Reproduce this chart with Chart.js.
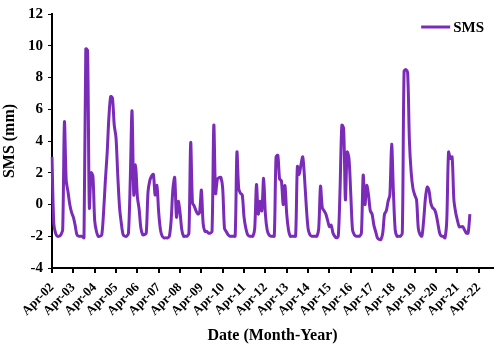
<!DOCTYPE html>
<html>
<head>
<meta charset="utf-8">
<script src="https://cdn.jsdelivr.net/npm/chart.js@4/dist/chart.umd.min.js"></script>
<style>
  html, body { margin: 0; padding: 0; background: #fff; }
  #wrap { width: 498px; height: 346px; }
</style>
</head>
<body>
<div id="wrap"><canvas id="grafico"></canvas></div>
<script>
// tick labels on the x axis (one per year, April)
const aprLabels = ['Apr-02','Apr-03','Apr-04','Apr-05','Apr-06','Apr-07','Apr-08','Apr-09','Apr-10','Apr-11',
  'Apr-12','Apr-13','Apr-14','Apr-15','Apr-16','Apr-17','Apr-18','Apr-19','Apr-20','Apr-21','Apr-22'];
const monthNames = ['Apr','May','Jun','Jul','Aug','Sep','Oct','Nov','Dec','Jan','Feb','Mar'];
const extraMonths = 8; // axis runs a bit past Apr-22

// monthly SMS (mm), Apr-02 .. Nov-21
const sms = [
  3.0, -1.2, -1.8, -2.0, -2.0, -1.9, -1.6, 5.2, 1.5, 0.8, 0.0, -0.5,
  -0.8, -1.3, -1.9, -2.0, -2.0, -2.0, -2.1, 9.8, 9.7, -0.2, 2.0, 1.8,
  -1.0, -1.7, -2.0, -2.0, -1.9, -0.5, 1.5, 3.2, 5.5, 6.8, 6.7, 5.0,
  4.2, 1.8, -0.2, -1.2, -1.9, -2.0, -2.0, -1.8, 1.5, 5.9, 0.6, 2.5,
  0.5, -0.3, -1.5, -1.9, -1.9, -1.8, 0.8, 1.5, 1.8, 1.9, 0.6, 1.2,
  -0.5, -1.6, -2.0, -2.1, -2.1, -2.1, -2.0, -1.0, 1.0, 1.7, -0.8, 0.2,
  -0.5, -1.6, -2.0, -2.0, -2.0, -1.8, 3.9, 0.1, -0.1, -0.4, -0.6, -0.5,
  0.9, -1.2, -1.7, -1.7, -1.8, -1.8, -1.7, 5.0, 0.7, 1.6, 1.7, 1.7,
  1.0, -1.5, -1.7, -1.9, -2.0, -2.0, -2.0, -2.0, 3.3, 1.0, 0.7, 0.6,
  -0.8, -1.5, -1.9, -2.0, -2.0, -2.0, -1.5, 1.25, -0.6, 0.2, -0.4, 1.65,
  -0.6, -1.6, -1.9, -2.0, -2.0, -2.0, 3.0, 3.1, 1.6, 1.5, 0.0, 1.2,
  -0.6, -1.6, -2.0, -2.0, -2.0, -2.0, 2.4, 1.9, 2.5, 3.0, 1.7, -0.1,
  -1.5, -1.9, -2.0, -2.0, -2.0, -2.0, -1.5, 1.15, -0.2, -0.4, -0.6, -1.0,
  -1.4, -1.3, -1.8, -2.0, -2.1, -2.0, 1.0, 5.0, 4.8, 0.3, 3.3, 2.9,
  0.7, -1.6, -1.9, -2.0, -2.0, -2.0, -1.8, 1.85, 0.0, 1.2, 0.6, -0.4,
  -0.6, -1.3, -1.7, -2.1, -2.2, -2.2, -1.8, -0.6, -0.4, 0.2, 0.6, 3.8,
  0.8, -1.6, -2.0, -2.0, -2.0, -1.8, 8.4, 8.5, 8.3, 4.0, 2.0, 1.0,
  0.6, 0.3, -1.5, -1.9, -2.0, -1.0, 0.4, 1.1, 0.9, 0.1, -0.2, -0.3,
  -0.6, -1.2, -1.8, -2.0, -2.0, -2.1, -1.0, 3.3, 2.9, 3.0, 0.3, -0.5,
  -1.0, -1.4, -1.4, -1.4, -1.6, -1.8, -1.8, -0.6
];

// etiquetas mensuales: Apr-02, May-02, ...
const etiquetas = [];
const totalMeses = (aprLabels.length - 1) * 12 + 1 + extraMonths;
for (let i = 0; i < totalMeses; i++) {
  const anio = 2 + Math.floor((i + 3) / 12);
  etiquetas.push(monthNames[i % 12] + '-' + String(anio).padStart(2, '0'));
}

const serif = 'Liberation Serif, Times New Roman, serif';
const purple = '#7a2cb8';

// leyenda dentro del area, arriba a la derecha
const leyendaInterna = {
  id: 'leyendaInterna',
  afterDraw(chart) {
    const c = chart.ctx;
    const area = chart.chartArea;
    const ds = chart.data.datasets[0];
    c.save();
    c.font = 'bold 15px ' + serif;
    const w = c.measureText(ds.label).width;
    const xText = area.right - 9 - w;
    const y = area.top + 13;
    c.strokeStyle = ds.borderColor;
    c.lineWidth = 3;
    c.beginPath();
    c.moveTo(xText - 32, y);
    c.lineTo(xText - 3, y);
    c.stroke();
    c.fillStyle = '#000';
    c.textBaseline = 'middle';
    c.fillText(ds.label, xText, y + 1);
    c.restore();
  }
};

const ctx = document.getElementById('grafico').getContext('2d');
new Chart(ctx, {
  type: 'line',
  data: {
    labels: etiquetas,
    datasets: [{
      label: 'SMS',
      data: sms,
      borderColor: purple,
      backgroundColor: purple,
      borderWidth: 3,
      pointRadius: 0,
      tension: 0.3,
      fill: false
    }]
  },
  plugins: [leyendaInterna],
  options: {
    responsive: true,
    maintainAspectRatio: false,
    animation: false,
    layout: { padding: { left: 0, right: 5, top: 10, bottom: 0 } },
    plugins: {
      tooltip: { enabled: false },
      legend: { display: false }
    },
    scales: {
      x: {
        type: 'category',
        offset: false,
        border: { color: '#000', width: 2 },
        grid: { display: true, drawOnChartArea: false, drawTicks: true, tickLength: 5, color: '#000', lineWidth: 2 },
        ticks: {
          autoSkip: false,
          maxRotation: 45,
          minRotation: 45,
          padding: 7,
          color: '#000',
          font: { family: serif, size: 13, weight: 'bold' },
          callback: function(value, index) {
            return index % 12 === 0 ? this.getLabelForValue(value) : null;
          }
        },
        title: {
          display: true,
          text: 'Date (Month-Year)',
          color: '#000',
          font: { family: serif, size: 16, weight: 'bold' },
          padding: { top: 0, bottom: 1 }
        },
        afterFit: function(scale) { scale.height = 78; }
      },
      y: {
        min: -4,
        max: 12,
        border: { color: '#000', width: 2 },
        grid: { display: true, drawOnChartArea: false, drawTicks: true, tickLength: 4, color: '#000', lineWidth: 1 },
        ticks: {
          stepSize: 2,
          padding: 5,
          color: '#000',
          font: { family: serif, size: 15, weight: 'bold' }
        },
        title: {
          display: true,
          text: 'SMS (mm)',
          color: '#000',
          font: { family: serif, size: 16, weight: 'bold' },
          padding: { top: 0, bottom: 2 }
        },
        afterFit: function(scale) { scale.width = 52; }
      }
    }
  }
});
</script>
</body>
</html>
